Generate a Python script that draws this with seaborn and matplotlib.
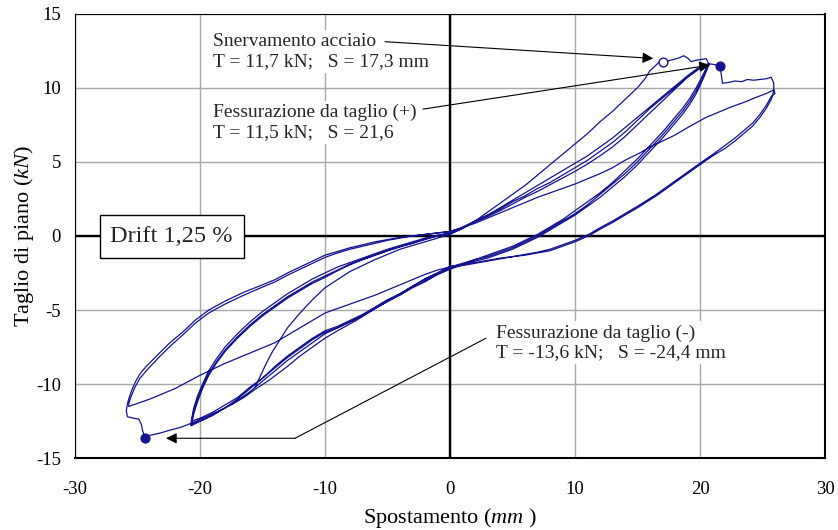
import matplotlib
matplotlib.use("Agg")
import matplotlib.pyplot as plt
import seaborn as sns
import pandas as pd

# --- rami del diagramma taglio-spostamento (mm, kN), in ordine di prova ---
# tratto iniziale (fine del ciclo precedente)
s0_x = [-15.6, -15.2, -14.7, -14.2, -13.6, -13.0, -12.0, -11.0, -10.0, -8.0, -6.0, -4.0, -2.0, 0.0]
s0_y = [-10.2, -9.5, -8.6, -7.8, -7.0, -6.2, -5.2, -4.3, -3.5, -2.4, -1.6, -0.9, -0.4, 0.1]

# primo carico positivo (vergine) fino a +20 mm
v_x = [1.0, 2.0, 3.0, 4.0, 5.0, 6.0, 7.0, 8.0, 9.0, 10.0, 11.0, 12.0, 13.0, 14.0, 15.0, 15.6, 16.0,
       16.4, 16.7, 17.0, 17.4, 17.9, 18.3, 18.7, 19.0, 19.3, 19.7, 20.1, 20.5, 20.7]
v_y = [0.5, 1.0, 1.6, 2.2, 2.8, 3.4, 4.1, 4.8, 5.5, 6.2, 6.9, 7.7, 8.4, 9.2, 10.0, 10.6, 11.15,
       11.45, 11.7, 11.75, 11.8, 11.9, 12.0, 12.15, 12.0, 11.75, 11.85, 11.9, 11.95, 11.6]

# scarichi da +20 mm
c_x = [20.6, 20.2, 19.7, 19.2, 18.6, 18.0, 17.0, 16.0, 15.0, 14.0, 13.0, 12.0, 11.0, 10.0, 9.0, 8.0,
       7.0, 6.0, 5.0, 4.0, 3.0, 2.0, 1.0, 0.0]
c1_y = [11.4, 10.6, 9.8, 9.1, 8.4, 7.8, 6.8, 5.9, 5.0, 4.2, 3.5, 2.8, 2.1, 1.5, 1.0, 0.5,
        0.0, -0.4, -0.8, -1.1, -1.4, -1.6, -1.85, -2.1]
c2_y = [11.5, 10.8, 10.0, 9.3, 8.6, 8.0, 7.0, 6.1, 5.2, 4.4, 3.6, 2.9, 2.3, 1.7, 1.1, 0.6,
        0.1, -0.3, -0.7, -1.0, -1.3, -1.6, -1.9, -2.2]
c3_y = [11.3, 10.5, 9.6, 8.9, 8.2, 7.6, 6.6, 5.7, 4.8, 4.0, 3.3, 2.6, 2.0, 1.4, 0.9, 0.4,
        -0.1, -0.5, -0.9, -1.2, -1.5, -1.7, -1.95, -2.25]

# carichi negativi fino a -20 mm
l20_x = [-1.0, -2.0, -3.0, -4.0, -5.0, -6.0, -7.0, -8.0, -9.0, -10.0, -11.0, -12.0, -13.0, -14.0,
         -15.0, -16.0, -17.0, -18.0, -19.0, -20.0, -20.7]
l20a_y = [-2.5, -2.9, -3.4, -3.9, -4.4, -4.9, -5.35, -5.8, -6.2, -6.6, -7.2, -7.8, -8.4, -9.1,
          -9.8, -10.5, -11.1, -11.6, -12.1, -12.5, -12.8]
l20b_y = [-2.6, -3.0, -3.4, -3.9, -4.3, -4.8, -5.3, -5.7, -6.1, -6.4, -6.9, -7.5, -8.1, -8.8,
          -9.6, -10.3, -11.0, -11.6, -12.1, -12.5, -12.7]
l20c_y = [-2.6, -3.1, -3.5, -4.0, -4.4, -4.9, -5.4, -5.8, -6.2, -6.5, -7.0, -7.6, -8.2, -8.9,
          -9.6, -10.2, -10.9, -11.4, -11.9, -12.3, -12.5]

# scarichi da -20 mm
u20_x = [-20.7, -20.5, -20.2, -19.8, -19.3, -18.7, -18.0, -17.0, -16.0, -15.0, -14.0, -13.0, -12.0,
         -11.0, -10.0, -9.0, -8.0, -7.0, -6.0, -5.0, -4.0, -3.0, -2.0, -1.0, 0.0]
u20a_y = [-12.6, -11.8, -11.0, -10.2, -9.3, -8.5, -7.7, -6.8, -6.0, -5.3, -4.7, -4.1, -3.6,
          -3.1, -2.7, -2.3, -1.9, -1.6, -1.3, -1.0, -0.7, -0.5, -0.2, 0.0, 0.2]
u20b_y = [-12.8, -12.0, -11.2, -10.3, -9.4, -8.6, -7.8, -6.9, -6.1, -5.4, -4.8, -4.2, -3.7,
          -3.2, -2.8, -2.35, -1.95, -1.6, -1.3, -1.0, -0.75, -0.5, -0.25, 0.0, 0.15]
u20c_y = [-12.5, -11.6, -10.8, -10.0, -9.1, -8.3, -7.5, -6.6, -5.8, -5.1, -4.5, -3.9, -3.4,
          -2.9, -2.5, -2.1, -1.8, -1.5, -1.2, -0.9, -0.65, -0.4, -0.15, 0.05, 0.2]

# ricarichi positivi fino a +20 mm
b_x = [1.0, 2.0, 3.0, 4.0, 5.0, 6.0, 7.0, 8.0, 9.0, 10.0, 11.0, 12.0, 13.0, 14.0, 15.0, 16.0,
       17.0, 18.0, 19.0, 19.8, 20.4, 20.7]
b1_y = [0.6, 1.0, 1.4, 1.8, 2.3, 2.7, 3.2, 3.6, 4.1, 4.6, 5.1, 5.7, 6.3, 7.0, 7.8, 8.6,
        9.3, 10.0, 10.7, 11.2, 11.5, 11.6]
b3_y = [0.55, 0.95, 1.3, 1.7, 2.15, 2.6, 3.0, 3.45, 3.9, 4.35, 4.85, 5.4, 6.0, 6.7, 7.5, 8.3,
        9.1, 9.9, 10.7, 11.2, 11.5, 11.55]

# ricarico che supera +20 mm: fessurazione a taglio e arrivo a +26 mm
b2_x = [1.0, 2.0, 3.0, 4.0, 5.0, 6.0, 7.0, 8.0, 9.0, 10.0, 11.0, 12.0, 13.0, 14.0, 15.0, 16.0,
        17.0, 18.0, 19.0, 19.8, 20.4, 20.8, 21.2, 21.6, 21.7, 21.8, 22.3, 22.8, 23.3, 23.8,
        24.3, 24.8, 25.3, 25.7, 25.9, 25.9]
b2_y = [0.5, 1.0, 1.4, 1.9, 2.4, 2.9, 3.4, 3.9, 4.4, 4.9, 5.4, 6.0, 6.6, 7.3, 8.0, 8.7,
        9.4, 10.1, 10.8, 11.3, 11.55, 11.6, 11.55, 11.47, 10.9, 10.3, 10.35, 10.45, 10.4, 10.55,
        10.5, 10.55, 10.6, 10.7, 10.3, 9.8]

# scarichi da +26 mm
e_x = [25.7, 25.3, 24.8, 24.2, 23.5, 22.8, 22.0, 21.2, 20.5, 19.5, 18.5, 17.5, 16.5, 15.2, 14.0,
       13.0, 12.0, 11.2, 10.0, 9.0, 8.0, 7.0, 6.0, 5.0, 4.0, 3.0, 2.0, 1.0, 0.0]
e1_y = [9.2, 8.6, 8.0, 7.4, 6.9, 6.4, 5.9, 5.5, 5.1, 4.5, 3.9, 3.3, 2.7, 2.0, 1.4,
        0.9, 0.45, 0.05, -0.4, -0.7, -1.0, -1.15, -1.3, -1.4, -1.5, -1.65, -1.8, -1.95, -2.05]
e2_y = [9.4, 8.8, 8.2, 7.6, 7.1, 6.6, 6.1, 5.6, 5.2, 4.6, 4.0, 3.4, 2.8, 2.1, 1.5,
        1.0, 0.55, 0.15, -0.3, -0.6, -0.9, -1.1, -1.25, -1.4, -1.55, -1.7, -1.85, -2.0, -2.1]

# primo carico negativo fino a -26 mm con fessurazione a taglio
n_x = [-1.0, -2.0, -3.0, -4.6, -6.0, -7.5, -9.0, -10.0, -11.0, -12.0, -13.0, -14.5, -15.5, -16.5,
       -17.5, -18.5, -19.5, -20.6, -21.5, -22.4, -23.2, -24.0, -24.4, -24.6, -24.7, -24.9,
       -25.3, -25.8, -25.9, -25.8]
n_y = [-2.5, -2.9, -3.4, -4.25, -4.9, -5.7, -6.4, -6.9, -7.5, -8.1, -8.8, -9.75, -10.3, -10.9,
       -11.4, -11.8, -12.2, -12.6, -12.9, -13.1, -13.3, -13.45, -13.65, -13.1, -12.7, -12.35,
       -12.3, -12.2, -11.8, -11.3]

# scarichi da -26 mm
u26_x = [-25.7, -25.5, -25.2, -24.8, -24.3, -23.3, -22.4, -21.4, -20.4, -19.3, -18.0, -16.5, -15.0,
         -14.0, -13.0, -12.0, -11.0, -10.0, -9.0, -8.0, -7.0, -6.0, -5.0, -4.0, -3.0, -2.0, -1.0, 0.0]
u26a_y = [-11.0, -10.5, -9.9, -9.3, -8.8, -7.95, -7.2, -6.5, -5.7, -5.0, -4.4, -3.8, -3.3,
          -2.95, -2.5, -2.1, -1.7, -1.3, -1.05, -0.8, -0.6, -0.4, -0.25, -0.1, 0.0, 0.1, 0.2, 0.3]
u26b_y = [-11.3, -10.8, -10.2, -9.6, -9.1, -8.2, -7.45, -6.7, -5.9, -5.2, -4.6, -4.0, -3.45,
          -3.1, -2.65, -2.25, -1.85, -1.45, -1.15, -0.9, -0.7, -0.5, -0.3, -0.15, 0.0, 0.1, 0.2, 0.3]

# ricarico positivo fino a +26 mm
d_x = [1.0, 2.0, 3.0, 4.0, 5.0, 6.0, 7.0, 8.0, 9.0, 10.0, 11.0, 12.0, 13.0, 14.0, 15.2, 16.0,
       17.0, 18.0, 19.0, 20.5, 21.5, 22.5, 23.5, 24.5, 25.3, 25.9, 26.0]
d_y = [0.55, 0.85, 1.2, 1.55, 1.9, 2.25, 2.6, 2.9, 3.2, 3.5, 3.85, 4.2, 4.6, 5.1, 5.6, 6.0,
       6.4, 6.8, 7.3, 8.0, 8.35, 8.7, 9.0, 9.35, 9.6, 9.85, 9.6]

# ricarico negativo fino a -26 mm
l26_x = [-1.0, -2.0, -3.0, -4.0, -5.0, -6.0, -7.0, -8.0, -9.0, -10.0, -11.0, -12.0, -13.0, -14.0,
         -15.0, -16.0, -17.0, -18.0, -19.0, -20.0, -21.0, -22.0, -23.0, -24.0, -25.0, -25.7]
l26_y = [-2.3, -2.6, -2.95, -3.3, -3.65, -4.0, -4.3, -4.6, -4.9, -5.2, -5.7, -6.2, -6.7, -7.2,
         -7.55, -7.9, -8.25, -8.6, -9.0, -9.4, -9.85, -10.3, -10.65, -11.0, -11.3, -11.5]

# punti notevoli
snerv_x, snerv_y = [17.0], [11.74]
fess_x, fess_y = [21.6, -24.4], [11.47, -13.65]

rami = [(s0_x, s0_y), (v_x, v_y), (c_x, c1_y), (l20_x, l20a_y), (u20_x, u20a_y),
        (b_x, b1_y), (c_x, c2_y), (l20_x, l20b_y), (u20_x, u20b_y),
        (b2_x, b2_y), (e_x, e1_y), (n_x, n_y), (u26_x, u26a_y),
        (d_x, d_y), (e_x, e2_y), (l26_x, l26_y), (u26_x, u26b_y),
        (b_x, b3_y), (c_x, c3_y), (l20_x, l20c_y), (u20_x, u20c_y)]

xs, ys = [], []
for rx, ry in rami:
    xs += rx
    ys += ry
df = pd.DataFrame({"spostamento": xs, "taglio": ys})

BLU = "#141490"

sns.set_theme(style="white")
plt.rcParams["font.family"] = ["Liberation Serif", "DejaVu Serif"]
plt.rcParams["mathtext.fontset"] = "custom"
plt.rcParams["mathtext.rm"] = "Liberation Serif"
plt.rcParams["mathtext.it"] = "Liberation Serif:italic"
plt.rcParams["axes.unicode_minus"] = False

fig = plt.figure(figsize=(8.38, 5.30), dpi=100)
ax = fig.add_axes([75 / 838, 1 - 458.3 / 530, 750 / 838, 444.8 / 530])

sns.lineplot(data=df, x="spostamento", y="taglio", sort=False, estimator=None,
             color=BLU, lw=0.9, ax=ax, zorder=3)
ax.scatter(snerv_x, snerv_y, s=40, facecolor="white", edgecolor=BLU, lw=1.0, zorder=4)
ax.scatter(fess_x, fess_y, s=40, color=BLU, zorder=4)

# assi, griglia, linee dello zero
ax.set_xlim(-30, 30)
ax.set_ylim(-15, 15)
xt = list(range(-30, 31, 10))
yt = list(range(-15, 16, 5))
ax.set_xticks(xt)
ax.set_yticks(yt)
ax.set_xticklabels([str(v) for v in xt])
ax.set_yticklabels([str(v) for v in yt])
ax.grid(True, color="#a8a8a8", lw=1.0)
ax.set_axisbelow(True)
ax.axhline(0, color="black", lw=1.7, zorder=2)
ax.axvline(0, color="black", lw=1.7, zorder=2)
ax.tick_params(axis="both", length=0, labelsize=13.5, colors="black")
ax.tick_params(axis="x", pad=16)
ax.tick_params(axis="y", pad=10)
for lato, spess in [("left", 0.8), ("top", 0.8), ("right", 1.5), ("bottom", 1.5)]:
    ax.spines[lato].set_color("black")
    ax.spines[lato].set_linewidth(spess)

ax.set_xlabel(r"Spostamento ($\mathit{mm}$ )", fontsize=16, color="black", labelpad=6)
ax.set_ylabel(r"Taglio di piano ($\mathit{kN}$)", fontsize=16, color="black", labelpad=0)

# riquadro drift
ax.text(-22.26, -0.06, "Drift 1,25 %", ha="center", va="center", fontsize=17.5, zorder=5,
        bbox=dict(boxstyle="square,pad=0.45", fc="white", ec="black", lw=1.0))

# annotazioni con frecce
box = dict(boxstyle="square,pad=0.15", fc="white", ec="none")
ax.text(-18.94, 12.43, "Snervamento acciaio\nT = 11,7 kN;   S = 17,3 mm", ha="left", va="center",
        fontsize=14, linespacing=1.2, bbox=box, zorder=5)
ax.text(-18.94, 7.67, "Fessurazione da taglio (+)\nT = 11,5 kN;   S = 21,6", ha="left", va="center",
        fontsize=14, linespacing=1.2, bbox=box, zorder=5)
ax.text(3.68, -7.2, "Fessurazione da taglio (-)\nT = -13,6 kN;   S = -24,4 mm", ha="left", va="center",
        fontsize=14, linespacing=1.2, bbox=box, zorder=5)

freccia = dict(arrowstyle="-|>", color="black", lw=0.8, mutation_scale=16, shrinkA=0, shrinkB=0)
ax.annotate("", xy=(16.26, 11.97), xytext=(-5.2, 13.1), arrowprops=freccia, zorder=6)
ax.annotate("", xy=(20.8, 11.52), xytext=(-2.16, 8.55), arrowprops=freccia, zorder=6)
ax.plot([2.88, -12.4], [-6.9, -13.65], color="black", lw=0.8, zorder=6)
ax.annotate("", xy=(-22.72, -13.65), xytext=(-12.4, -13.65), arrowprops=freccia, zorder=6)

fig.savefig("out.png", dpi=100, facecolor="white")
